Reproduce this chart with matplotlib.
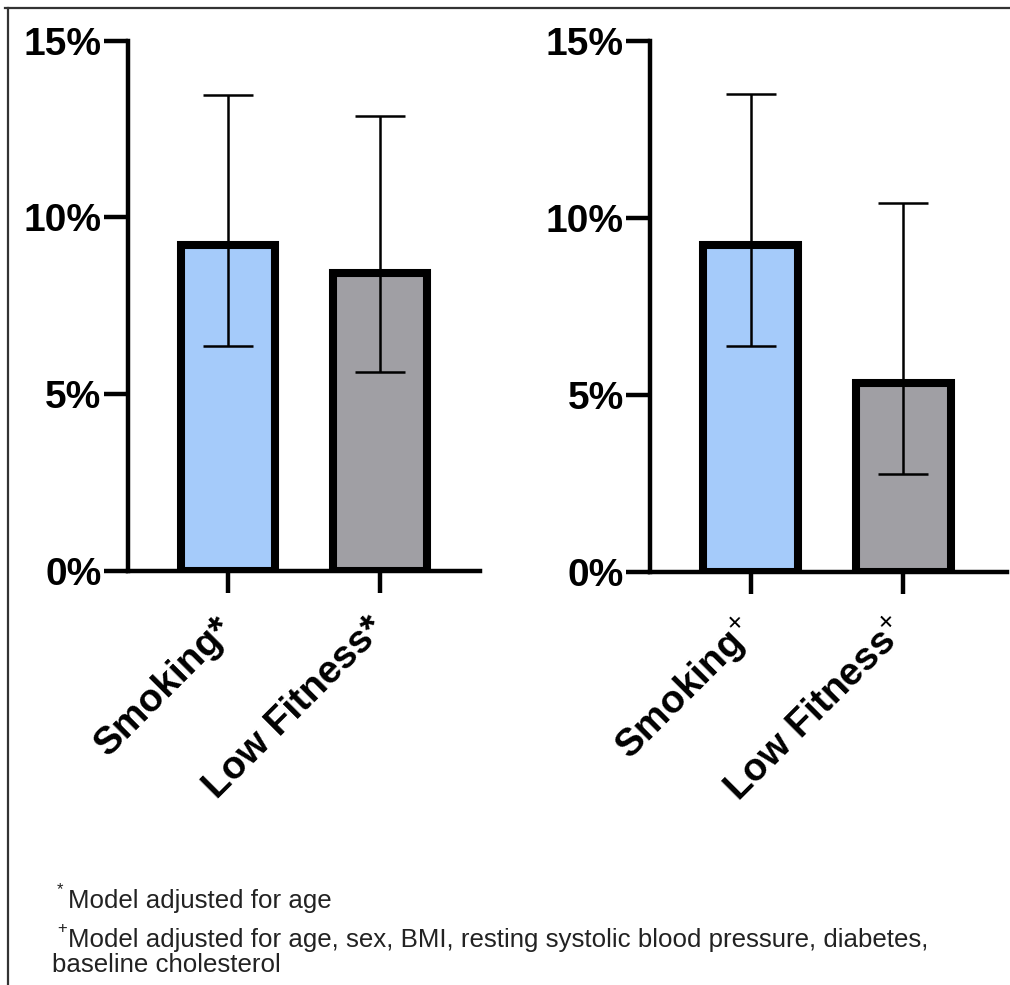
#!/usr/bin/env python3
import matplotlib
matplotlib.use("Agg")
import matplotlib.pyplot as plt
from matplotlib.lines import Line2D

plt.rcParams["font.family"] = ["Liberation Sans", "DejaVu Sans"]
plt.rcParams["mathtext.fontset"] = "custom"
plt.rcParams["mathtext.rm"] = "Liberation Sans"
plt.rcParams["mathtext.bf"] = "Liberation Sans:bold"

# data (percent)
left_labels = ["Smoking*", "Low Fitness*"]
left_vals = [9.22, 8.42]
left_lo = [6.36, 5.61]
left_hi = [13.47, 12.87]

right_labels = ["Smoking$^{+}$", "Low Fitness$^{+}$"]
right_vals = [9.25, 5.35]
right_lo = [6.38, 2.77]
right_hi = [13.5, 10.42]

yticks = [0, 5, 10, 15]
ytick_labels = ["0%", "5%", "10%", "15%"]
colors = ["#a5cbfa", "#a09fa4"]

notes = [
    ("*", "Model adjusted for age"),
    ("+", "Model adjusted for age, sex, BMI, resting systolic blood pressure, diabetes,"),
    ("", "baseline cholesterol"),
]


def draw_panel(ax, labels, vals, lo, hi, xmax):
    xs = list(range(len(vals)))
    ax.bar(xs, vals, width=0.62, color=colors, edgecolor="black",
           linewidth=5.8, zorder=2)
    yerr = [[v - l for v, l in zip(vals, lo)], [h - v for v, h in zip(vals, hi)]]
    ax.errorbar(xs, vals, yerr=yerr, fmt="none", ecolor="black",
                elinewidth=1.8, capsize=18, capthick=1.8, zorder=3)
    ax.set_xlim(-0.66, xmax)
    ax.set_ylim(0, 15)
    ax.set_yticks(yticks)
    ax.set_yticklabels(ytick_labels, fontsize=28, fontweight="bold")
    ax.set_xticks(xs)
    ax.set_xticklabels(labels, fontsize=28, fontweight="bold", rotation=45,
                       ha="right", va="center", rotation_mode="anchor")
    for s in ["top", "right"]:
        ax.spines[s].set_visible(False)
    for s in ["left", "bottom"]:
        ax.spines[s].set_linewidth(3.2)
    ax.tick_params(axis="y", length=17, width=3.2, pad=2)
    ax.tick_params(axis="x", length=16, width=3.2, pad=22)


fig = plt.figure(figsize=(10.1, 9.85), dpi=100)
ax1 = fig.add_axes([0.1267, 0.4208, 0.3485, 0.5376])
ax2 = fig.add_axes([0.6436, 0.4188, 0.3535, 0.5396])
ax1.patch.set_visible(False)
ax2.patch.set_visible(False)

draw_panel(ax1, left_labels, left_vals, left_lo, left_hi, 1.66)
draw_panel(ax2, right_labels, right_vals, right_lo, right_hi, 1.68)

# frame lines
fig.add_artist(Line2D([0.005, 1.0], [1 - 8 / 985, 1 - 8 / 985], color="#333333",
                      linewidth=1.6, transform=fig.transFigure))
fig.add_artist(Line2D([8 / 1010, 8 / 1010], [0, 1 - 8 / 985], color="#333333",
                      linewidth=1.6, transform=fig.transFigure))

# footnotes
note_y = [908, 947, 972]
for (mark, txt), y in zip(notes, note_y):
    fy = 1 - y / 985
    if mark:
        fig.text(57 / 1010, fy + 14 / 985, mark, fontsize=12, color="#222222",
                 va="baseline")
    fig.text(68 / 1010 if mark else 52 / 1010, fy, txt, fontsize=18.6,
             color="#222222", va="baseline")

fig.savefig("out.png", dpi=100)
